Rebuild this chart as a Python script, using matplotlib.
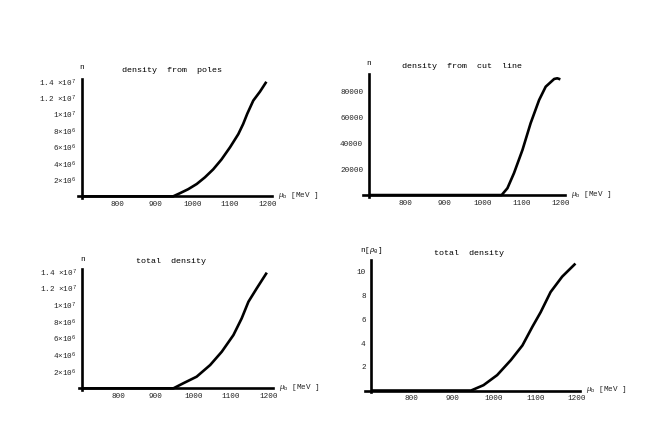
"""Baryon density vs chemical potential, four panels."""

import matplotlib

matplotlib.use("Agg")
import matplotlib.pyplot as plt

plt.rcParams["font.family"] = ["Liberation Mono", "DejaVu Sans"]
plt.rcParams["mathtext.fontset"] = "custom"
plt.rcParams["mathtext.rm"] = "Liberation Mono"
plt.rcParams["mathtext.it"] = "Liberation Mono:italic"

W, H = 661, 446

# density from poles (n in units of 1e6)
poles_mu = [705, 948, 966, 988, 1011, 1033, 1055, 1077, 1100, 1122, 1135, 1146, 1162, 1180, 1197]
poles_n = [0, 0, 0.38, 0.87, 1.51, 2.33, 3.3, 4.5, 6.0, 7.6, 8.84, 10.1, 11.7, 12.8, 14.0]

# density from cut line
cut_mu = [705, 1048, 1063, 1080, 1102, 1123, 1145, 1162, 1184, 1192, 1200]
cut_n = [0, 0, 5300, 17000, 35000, 55600, 73600, 83900, 89900, 90400, 89600]

# total density (units of 1e6)
total_mu = [705, 947, 973, 1009, 1045, 1076, 1107, 1129, 1147, 1169, 1196]
total_n = [0, 0, 0.6, 1.4, 2.8, 4.4, 6.4, 8.4, 10.4, 12.0, 13.9]

# total density in units of rho0
rho_mu = [705, 945, 975, 1008, 1041, 1069, 1093, 1113, 1137, 1165, 1197]
rho_n = [0, 0, 0.45, 1.3, 2.56, 3.8, 5.37, 6.6, 8.3, 9.6, 10.7]

x_ticks = [800, 900, 1000, 1100, 1200]
big_ticks = [2e6, 4e6, 6e6, 8e6, 1e7, 1.2e7, 1.4e7]
big_labels = ["2$\\times$10$^{6}$", "4$\\times$10$^{6}$", "6$\\times$10$^{6}$",
              "8$\\times$10$^{6}$", "1$\\times$10$^{7}$", "1.2 $\\times$10$^{7}$",
              "1.4 $\\times$10$^{7}$"]
cut_ticks = [20000, 40000, 60000, 80000]
rho_ticks = [2, 4, 6, 8, 10]

fig = plt.figure(figsize=(W / 100, H / 100), dpi=100)


def px(x, y):
    return x / W, 1 - y / H


def panel(box, xlim, ylim, xs, ys, yticks, ylabels, title, title_xy, ylab, ylab_y):
    x0, y0, x1, y1 = box
    ax = fig.add_axes([x0 / W, 1 - y1 / H, (x1 - x0) / W, (y1 - y0) / H])
    ax.plot(xs, ys, color="black", lw=1.9, solid_capstyle="butt")
    ax.set_xlim(*xlim)
    ax.set_ylim(*ylim)
    ax.spines["left"].set_position(("data", 704))
    ax.spines["bottom"].set_position(("data", 0))
    for side in ("top", "right"):
        ax.spines[side].set_visible(False)
    for side in ("left", "bottom"):
        ax.spines[side].set_linewidth(1.9)
    ax.set_xticks(x_ticks)
    ax.set_yticks(yticks)
    ax.set_yticklabels(ylabels)
    ax.tick_params(length=0, labelsize=5.5, colors="#222222")
    ax.tick_params(axis="x", pad=3.5)
    ax.tick_params(axis="y", pad=4)
    ax.patch.set_visible(False)
    # axis texts
    fig.text(*px(*title_xy), title, fontsize=6, ha="center", va="center")
    sx = ax.transData.transform((704, 0))[0]
    fig.text(sx / W, 1 - ylab_y / H, ylab, fontsize=5.5, ha="center", va="center")
    fig.text(*px(x1 + 6, y1 - 2.5 - (ylim[0] / (ylim[0] - ylim[1])) * 0), r"$\mu_{\rm b}$ [MeV ]",
             fontsize=5.5, ha="left", va="center", color="#222222")
    return ax


panel((78, 79.3, 272, 198), (694, 1212), (-0.2e6, 1.43e7),
      poles_mu, [v * 1e6 for v in poles_n], big_ticks, big_labels,
      "density  from  poles", (172, 70.7), "n", 67.7)
panel((363.3, 74.3, 565, 197), (690, 1212), (-1500, 93500),
      cut_mu, cut_n, cut_ticks, [str(t) for t in cut_ticks],
      "density  from  cut  line", (462, 66.7), "n", 63.3)
panel((78.5, 269.3, 272.8, 390), (694, 1212), (-0.2e6, 1.43e7),
      total_mu, [v * 1e6 for v in total_n], big_ticks, big_labels,
      "total  density", (171, 261.7), "n", 259.3)
panel((364.6, 260, 580, 392.3), (688, 1208), (-0.15, 11.0),
      rho_mu, rho_n, rho_ticks, [str(t) for t in rho_ticks],
      "total  density", (469.5, 253.5), r"n[$\rho_{0}$]", 251)

fig.savefig("out.png", dpi=100)
